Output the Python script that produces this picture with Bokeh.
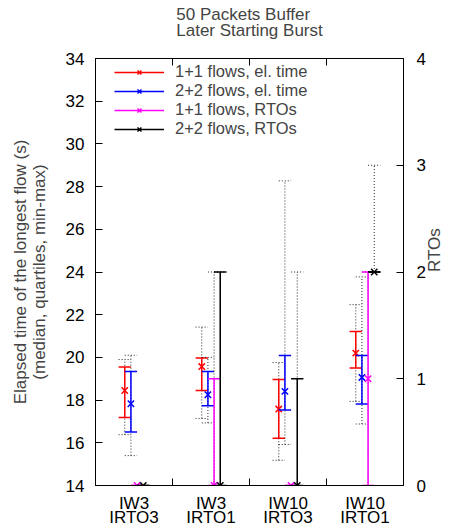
import math
from bokeh.plotting import figure
from bokeh.models import (Range1d, LinearAxis, FixedTicker, ColumnDataSource,
                          Legend, LegendItem)
from bokeh.embed import file_html
from bokeh.resources import INLINE

# ---------------- data ----------------
categories = ["IW3\nIRTO3", "IW3\nIRTO1", "IW10\nIRTO3", "IW10\nIRTO1"]
series_labels = ["1+1 flows, el. time", "2+2 flows, el. time",
                 "1+1 flows, RTOs", "2+2 flows, RTOs"]

# elapsed time (s), 1+1 flows
et11_median = [18.45, 19.57, 17.58, 20.20]
et11_q1 = [17.19, 18.45, 16.21, 19.50]
et11_q3 = [19.55, 19.97, 18.97, 21.21]
et11_min = [16.38, 17.14, 15.18, 17.94]
et11_max = [19.90, 21.42, 19.76, 22.47]

# elapsed time (s), 2+2 flows
et22_median = [17.83, 18.25, 18.41, 19.06]
et22_q1 = [16.51, 17.74, 17.54, 17.82]
et22_q3 = [19.34, 19.34, 20.09, 20.09]
et22_min = [15.40, 16.93, 15.92, 16.88]
et22_max = [20.10, 20.00, 28.27, 23.77]

# RTOs, 1+1 flows
rto11_median = [0, 0, 0, 1]
rto11_q1 = [0, 0, 0, 0]
rto11_q3 = [0, 1, 0, 2]
rto11_min = [0, 0, 0, 0]
rto11_max = [0, 2, 0, 2]

# RTOs, 2+2 flows
rto22_median = [0, 0, 0, 2]
rto22_q1 = [0, 0, 0, 2]
rto22_q3 = [0, 2, 1, 2]
rto22_min = [0, 0, 0, 2]
rto22_max = [0, 2, 2, 3]

y_ticks = list(range(14, 35, 2))
rto_ticks = [0, 1, 2, 3, 4]
title_text = "50 Packets Buffer\nLater Starting Burst"

# ---------------- style ----------------
FONT = "Liberation Sans"
OFFSETS = [-0.12, -0.04, 0.04, 0.12]
COLORS = ["#ff0000", "#0000ff", "#ff00ff", "#000000"]
CAP = 0.08

p = figure(width=461, height=529, x_range=Range1d(-0.5, 3.5), y_range=Range1d(14, 34),
           output_backend="svg", toolbar_location=None,
           min_border_left=95, min_border_right=58, min_border_top=58, min_border_bottom=43)
p.extra_y_ranges = {"rto": Range1d(0, 4)}
p.grid.visible = False
p.outline_line_color = "black"
p.outline_line_width = 1
p.background_fill_color = "white"

p.title.text = title_text
p.title.align = "center"
p.title.text_font = FONT
p.title.text_font_size = "17px"
p.title.text_font_style = "normal"
p.title.text_line_height = 0.88
p.title.standoff = 0

# bottom axis
xa = p.xaxis[0]
xa.ticker = FixedTicker(ticks=list(range(len(categories))), minor_ticks=[0.5, 1.5, 2.5])
xa.major_label_overrides = {i: c for i, c in enumerate(categories)}
xa.major_tick_in = 0
xa.major_tick_out = 0
xa.minor_tick_in = 7
xa.minor_tick_out = 0
xa.minor_tick_line_color = "black"
xa.major_label_standoff = 8
xa.major_label_text_font = FONT
xa.major_label_text_font_size = "17px"
xa.major_label_text_line_height = 0.75
xa.major_label_text_color = "black"
xa.axis_line_color = "black"

# top axis (ticks only)
top = LinearAxis(ticker=FixedTicker(ticks=[], minor_ticks=[0.5, 1.5, 2.5]),
                 major_tick_in=0, major_tick_out=0, minor_tick_in=7, minor_tick_out=0,
                 major_label_text_font_size="0px", major_label_standoff=0,
                 axis_label=" ", axis_label_text_font_size="1px", axis_label_standoff=14,
                 minor_tick_line_color="black", axis_line_color="black")
p.add_layout(top, "above")

# left axis
ya = p.yaxis[0]
ya.ticker = FixedTicker(ticks=y_ticks)
ya.major_tick_in = 7
ya.major_tick_out = 0
ya.minor_tick_line_color = None
ya.major_label_standoff = 11
ya.major_label_text_font = FONT
ya.major_label_text_font_size = "17px"
ya.major_label_text_color = "black"
ya.axis_label = "Elapsed time of the longest flow (s)\n(median, quartiles, min-max)"
ya.axis_label_text_font = FONT
ya.axis_label_text_font_size = "17px"
ya.axis_label_text_font_style = "normal"
ya.axis_label_text_line_height = 1.0
ya.axis_label_standoff = 14
ya.axis_line_color = "black"

# right axis
ra = LinearAxis(y_range_name="rto", ticker=FixedTicker(ticks=rto_ticks),
                axis_label="RTOs")
ra.major_tick_in = 7
ra.major_tick_out = 0
ra.minor_tick_line_color = None
ra.major_label_standoff = 13
ra.major_label_text_font = FONT
ra.major_label_text_font_size = "17px"
ra.major_label_text_color = "black"
ra.axis_label_text_font = FONT
ra.axis_label_text_font_size = "17px"
ra.axis_label_text_font_style = "normal"
ra.axis_label_orientation = math.pi / 2
ra.axis_label_standoff = 6
ra.axis_line_color = "black"
p.add_layout(ra, "right")


def add_series(k, med, q1, q3, lo, hi, yr=None):
    xs = [i + OFFSETS[k] for i in range(len(med))]
    src = ColumnDataSource(dict(x=xs, xl=[x - CAP for x in xs], xr=[x + CAP for x in xs],
                                med=med, q1=q1, q3=q3, lo=lo, hi=hi))
    kw = dict(y_range_name=yr) if yr else {}
    dot = dict(source=src, line_color="black", line_width=1, line_dash="1 2", line_alpha=0.85, **kw)
    p.segment("x", "lo", "x", "hi", **dot)
    p.segment("xl", "lo", "xr", "lo", **dot)
    p.segment("xl", "hi", "xr", "hi", **dot)
    sol = dict(source=src, line_color=COLORS[k], line_width=1.5, **kw)
    v = p.segment("x", "q1", "x", "q3", **sol)
    p.segment("xl", "q1", "xr", "q1", **sol)
    p.segment("xl", "q3", "xr", "q3", **sol)
    m = p.scatter("x", "med", source=src, marker="x", size=9, line_color=COLORS[k],
                  line_width=1.5, **kw)
    return LegendItem(label=series_labels[k], renderers=[v, m])


items = [
    add_series(0, et11_median, et11_q1, et11_q3, et11_min, et11_max),
    add_series(1, et22_median, et22_q1, et22_q3, et22_min, et22_max),
    add_series(2, rto11_median, rto11_q1, rto11_q3, rto11_min, rto11_max, "rto"),
    add_series(3, rto22_median, rto22_q1, rto22_q3, rto22_min, rto22_max, "rto"),
]

legend = Legend(items=items, location=(19, 347), margin=0, padding=4,
                border_line_color=None, background_fill_alpha=0,
                glyph_width=50, glyph_height=14, label_height=14, spacing=-2,
                label_standoff=11, label_text_font=FONT, label_text_font_size="16.5px")
p.add_layout(legend)

open("out.html", "w").write(file_html(p, INLINE))
